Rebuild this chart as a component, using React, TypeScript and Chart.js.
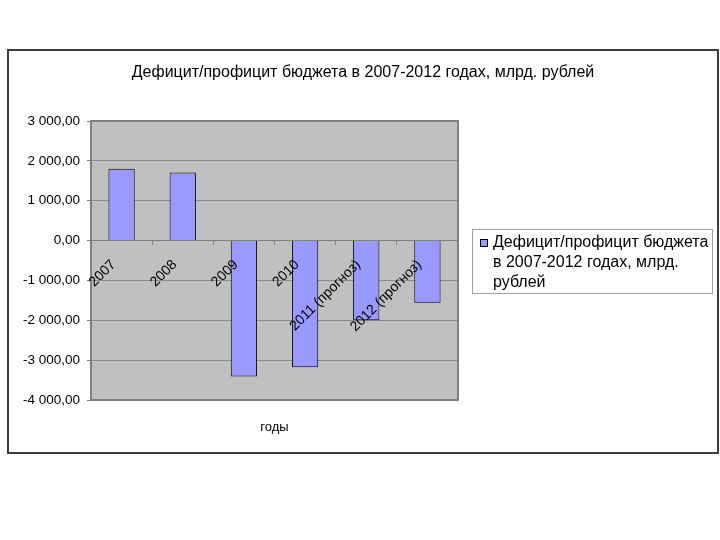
import React, { useEffect, useRef } from "react";
import { Chart, registerables } from "chart.js";

Chart.register(...registerables);

const chartTitle = "Дефицит/профицит бюджета в 2007-2012 годах, млрд. рублей";
const seriesLabel = "Дефицит/профицит бюджета в 2007-2012 годах, млрд. рублей";
const axisTitle = "годы";
const categories = ["2007", "2008", "2009", "2010", "2011 (прогноз)", "2012 (прогноз)"];
const values = [1800, 1710, -3410, -3180, -2000, -1560];
const yMin = -4000;
const yMax = 3000;
const yStep = 1000;

const FONT = "'Liberation Sans', Arial, Helvetica, sans-serif";

function fmt(v: number): string {
  const s = Math.abs(v).toFixed(2);
  const [i, d] = s.split(".");
  const g = i.replace(/\B(?=(\d{3})+(?!\d))/g, " ");
  return (v < 0 ? "-" : "") + g + "," + d;
}

function wrap(ctx: CanvasRenderingContext2D, text: string, maxW: number): string[] {
  const words = text.split(" ");
  const lines: string[] = [];
  let cur = "";
  for (const w of words) {
    const t = cur ? cur + " " + w : w;
    if (ctx.measureText(t).width > maxW && cur) {
      lines.push(cur);
      cur = w;
    } else cur = t;
  }
  if (cur) lines.push(cur);
  return lines;
}

const decor = {
  id: "decor",
  beforeDraw(chart: any) {
    const { ctx, chartArea: a } = chart;
    ctx.save();
    ctx.fillStyle = "#C0C0C0";
    ctx.fillRect(a.left, a.top, a.right - a.left, a.bottom - a.top);
    ctx.restore();
  },
  beforeDatasetsDraw(chart: any) {
    const { ctx, chartArea: a } = chart;
    ctx.save();
    ctx.strokeStyle = "#808080";
    ctx.lineWidth = 2;
    ctx.strokeRect(a.left, a.top, a.right - a.left, a.bottom - a.top);
    ctx.restore();
  },
  afterDraw(chart: any) {
    const { ctx, chartArea: a } = chart;
    ctx.save();
    // outer border
    ctx.strokeStyle = "#3c3c3c";
    ctx.lineWidth = 2;
    ctx.strokeRect(8, 50, 710, 403);
    // title
    ctx.fillStyle = "#000";
    ctx.font = `16px ${FONT}`;
    ctx.textAlign = "center";
    ctx.textBaseline = "middle";
    ctx.fillText(chartTitle, 363, 73);
    // axis title
    ctx.font = `13px ${FONT}`;
    ctx.fillText(axisTitle, (a.left + a.right) / 2, 427);
    // legend
    ctx.strokeStyle = "#a0a0a0";
    ctx.lineWidth = 1;
    ctx.strokeRect(472.5, 229.5, 240, 64);
    const ds = chart.data.datasets[0];
    ctx.fillStyle = ds.backgroundColor;
    ctx.fillRect(480, 239, 7, 7);
    ctx.strokeStyle = "#000";
    ctx.strokeRect(480.5, 239.5, 7, 7);
    ctx.font = `16px ${FONT}`;
    ctx.textAlign = "left";
    ctx.fillStyle = "#000";
    const lines = wrap(ctx, ds.label, 222);
    lines.forEach((ln, k) => ctx.fillText(ln, 493, 243 + k * 20));
    ctx.restore();
  },
};

export default function App() {
  const ref = useRef<HTMLCanvasElement>(null);
  useEffect(() => {
    document.body.style.margin = "0";
    const chart = new Chart(ref.current!, {
      type: "bar",
      data: {
        labels: categories,
        datasets: [
          {
            label: seriesLabel,
            data: values,
            backgroundColor: "#9999FF",
            borderColor: "#000000",
            borderWidth: 1,
            barPercentage: 0.43,
            categoryPercentage: 1,
          },
        ],
      },
      options: {
        responsive: false,
        animation: false,
        layout: { padding: { left: 0, right: 262, top: 121, bottom: 140 } },
        plugins: { legend: { display: false }, title: { display: false }, tooltip: { enabled: false } },
        scales: {
          y: {
            min: yMin,
            max: yMax,
            afterFit: (s: any) => {
              s.width = 91;
            },
            ticks: {
              stepSize: yStep,
              padding: 7,
              color: "#000",
              font: { family: FONT, size: 13.5 },
              callback: (v: any) => fmt(Number(v)),
            },
            grid: { color: "#8a8a8a", lineWidth: 1, tickLength: 4, tickColor: "#808080" },
            border: { display: false },
          },
          x: {
            position: { y: 0 },
            offset: true,
            ticks: {
              z: 1,
              autoSkip: false,
              minRotation: 45,
              maxRotation: 45,
              padding: 12,
              labelOffset: -8,
              color: "#000",
              font: { family: FONT, size: 14 },
            },
            grid: { display: true, drawOnChartArea: false, tickLength: 4, tickColor: "#808080", offset: true },
            border: { display: true, color: "#808080", width: 1 },
          },
        },
      },
      plugins: [decor],
    });
    return () => chart.destroy();
  }, []);
  return (
    <div style={{ width: 720, height: 540 }}>
      <canvas ref={ref} width={720} height={540} style={{ display: "block" }} />
    </div>
  );
}
